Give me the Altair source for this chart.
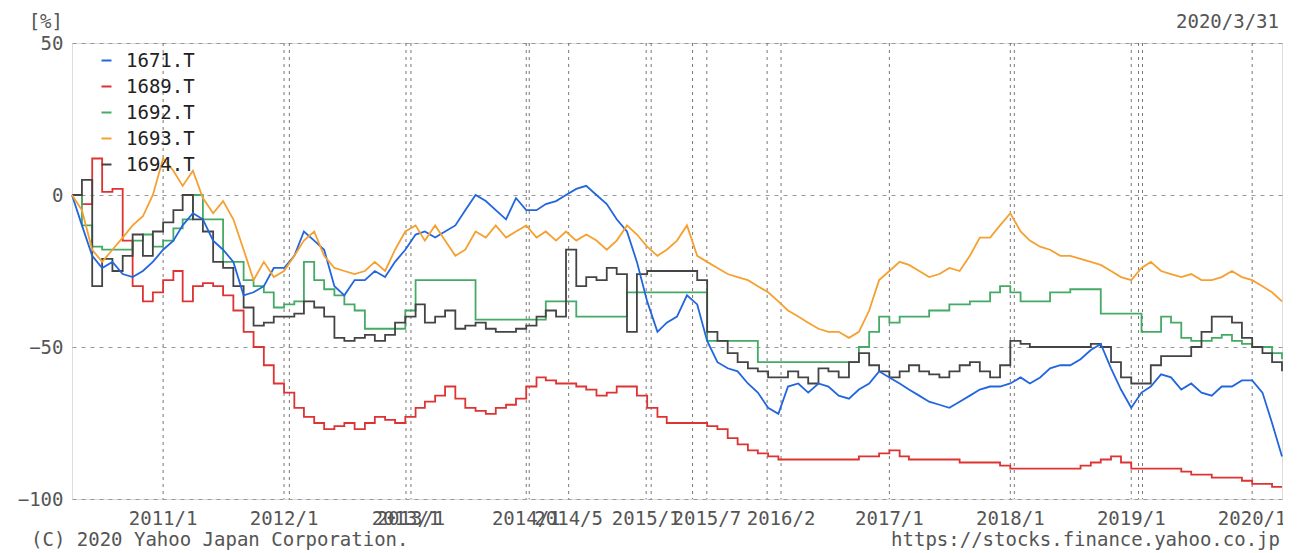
import altair as alt
import pandas as pd

# ---------------- data ----------------
dates = pd.date_range("2010-04-01", "2020-03-01", freq="MS").strftime("%Y-%m-%d").tolist() + ["2020-03-31"]

series_names = ["1671.T", "1689.T", "1692.T", "1693.T", "1694.T"]
series_colors = ["#2266DD", "#DD3333", "#44AA66", "#F5A030", "#444444"]

v1671 = [0, -10, -20, -24, -22, -26, -27, -25, -22, -18,
         -15, -10, -6, -8, -15, -18, -22, -33, -32, -30,
         -24, -24, -20, -12, -15, -18, -30, -33, -28, -28,
         -25, -27, -22, -18, -13, -12, -14, -12, -10, -5,
         0, -2, -5, -8, -1, -5, -5, -3, -2, 0,
         2, 3, 0, -3, -8, -12, -22, -35, -45, -42,
         -40, -33, -36, -48, -55, -57, -58, -62, -65, -70,
         -72, -63, -62, -65, -62, -63, -66, -67, -64, -62,
         -58, -60, -62, -64, -66, -68, -69, -70, -68, -66,
         -64, -63, -63, -62, -60, -62, -60, -57, -56, -56,
         -54, -51, -49, -57, -64, -70, -65, -63, -59, -60,
         -64, -62, -65, -66, -63, -63, -61, -61, -65, -75,
         -86]

v1689 = [0, -3, 12, 1, 2, -15, -30, -35, -32, -28,
         -25, -35, -30, -29, -30, -33, -38, -45, -50, -56,
         -62, -65, -70, -73, -75, -77, -76, -75, -77, -75,
         -73, -74, -75, -73, -70, -68, -66, -63, -67, -70,
         -71, -72, -70, -69, -67, -63, -60, -61, -62, -62,
         -63, -64, -66, -65, -63, -63, -66, -70, -73, -75,
         -75, -75, -75, -76, -77, -80, -82, -84, -85, -86,
         -87, -87, -87, -87, -87, -87, -87, -87, -86, -86,
         -85, -84, -86, -87, -87, -87, -87, -87, -88, -88,
         -88, -88, -89, -90, -90, -90, -90, -90, -90, -90,
         -89, -88, -87, -86, -88, -90, -90, -90, -90, -90,
         -91, -92, -92, -93, -93, -93, -94, -95, -95, -96,
         -96]

v1692 = [0, -10, -17, -18, -18, -18, -15, -13, -17, -15,
         -11, -8, 0, -8, -8, -22, -22, -28, -30, -32,
         -37, -36, -35, -22, -28, -31, -33, -36, -38, -44,
         -44, -44, -44, -38, -28, -28, -28, -28, -28, -28,
         -41, -41, -41, -41, -41, -41, -41, -35, -35, -35,
         -40, -40, -40, -40, -40, -32, -32, -32, -32, -32,
         -32, -32, -32, -48, -48, -48, -48, -48, -55, -55,
         -55, -55, -55, -55, -55, -55, -55, -55, -50, -45,
         -40, -42, -40, -40, -40, -38, -38, -36, -36, -35,
         -35, -32, -30, -32, -35, -35, -35, -32, -32, -31,
         -31, -31, -39, -39, -39, -39, -45, -45, -40, -42,
         -47, -48, -48, -47, -46, -48, -49, -50, -50, -52,
         -54]

v1693 = [0, -5, -18, -22, -18, -14, -10, -7, 0, 12,
         8, 3, 8, -1, -6, -2, -8, -18, -28, -22,
         -27, -25, -20, -15, -12, -20, -24, -25, -26, -25,
         -22, -25, -18, -12, -10, -15, -10, -15, -20, -18,
         -12, -14, -10, -14, -12, -10, -14, -12, -15, -12,
         -15, -13, -15, -18, -15, -10, -13, -17, -20, -18,
         -15, -10, -20, -22, -24, -26, -27, -28, -30, -32,
         -35, -38, -40, -42, -44, -45, -45, -47, -45, -38,
         -28, -25, -22, -23, -25, -27, -26, -24, -25, -20,
         -14, -14, -10, -6, -12, -15, -17, -18, -20, -20,
         -21, -22, -23, -25, -27, -28, -24, -22, -25, -26,
         -27, -26, -28, -28, -27, -25, -27, -28, -30, -32,
         -35]

v1694 = [0, 5, -30, -21, -25, -20, -13, -20, -12, -9,
         -5, 0, -8, -12, -22, -24, -30, -37, -43, -42,
         -40, -40, -39, -35, -37, -40, -47, -48, -47, -46,
         -48, -46, -42, -40, -36, -42, -40, -38, -44, -43,
         -42, -44, -45, -45, -44, -43, -40, -38, -40, -18,
         -30, -27, -28, -24, -26, -45, -26, -25, -25, -25,
         -25, -25, -28, -45, -48, -52, -55, -57, -58, -60,
         -60, -58, -60, -62, -57, -58, -60, -55, -52, -56,
         -58, -60, -58, -56, -58, -59, -60, -58, -56, -55,
         -58, -60, -56, -48, -49, -50, -50, -50, -50, -50,
         -50, -49, -50, -55, -60, -62, -62, -56, -53, -53,
         -53, -50, -45, -40, -40, -42, -47, -50, -52, -55,
         -58]

# vertical marker lines and the date labels under them
vline_dates = ["2011-01-01", "2012-01-01", "2012-01-17", "2013-01-03", "2013-01-18",
               "2014-01-01", "2014-01-10", "2014-05-09", "2014-12-29", "2015-01-13",
               "2015-05-18", "2015-06-30", "2015-12-29", "2016-02-09", "2017-01-01",
               "2018-01-01", "2018-01-13", "2019-01-01", "2019-01-23", "2019-02-04",
               "2020-01-01"]
label_dates = ["2011-01-01", "2012-01-01", "2013-01-03", "2013-01-18", "2014-01-01",
               "2014-05-09", "2014-12-29", "2015-06-30", "2016-02-09", "2017-01-01",
               "2018-01-01", "2019-01-01", "2020-01-01"]
label_texts = ["2011/1", "2012/1", "2013/1", "2013/1", "2014/1",
               "2014/5", "2015/1", "2015/7", "2016/2", "2017/1",
               "2018/1", "2019/1", "2020/1"]
y_ticks = [-100, -50, 0, 50]

unit_text = ["[%]"]
date_text = ["2020/3/31"]
copyright_text = ["(C) 2020 Yahoo Japan Corporation."]
url_text = ["https://stocks.finance.yahoo.co.jp"]

# ---------------- build ----------------
values = {"1671.T": v1671, "1689.T": v1689, "1692.T": v1692, "1693.T": v1693, "1694.T": v1694}
rows = []
for name in series_names:
    for d, v in zip(dates, values[name]):
        rows.append({"date": d, "value": v, "series": name})
df = pd.DataFrame(rows)

FONT = "DejaVu Sans Mono"
FS = 19
W, H = 1210, 456

xscale = alt.Scale(domain=[alt.DateTime(year=2010, month=4, date=1, utc=True),
                           alt.DateTime(year=2020, month=3, date=31, utc=True)])
yscale = alt.Scale(domain=[-100, 50], nice=False)
color = alt.Color("series:N",
                  scale=alt.Scale(domain=series_names, range=series_colors),
                  legend=alt.Legend(title=None, orient="none", legendX=25, legendY=8,
                                    symbolType="stroke", symbolSize=100, symbolStrokeWidth=2,
                                    labelFont=FONT, labelFontSize=FS, labelColor="#222",
                                    labelOffset=10, rowPadding=6, padding=0))

base = alt.Chart(df).encode(
    x=alt.X("date:T", scale=xscale, axis=None),
    y=alt.Y("value:Q", scale=yscale,
            axis=alt.Axis(values=y_ticks, title=None, grid=True, gridDash=[4, 5],
                          gridColor="#999", gridWidth=1, domain=False, ticks=False,
                          labelFont=FONT, labelFontSize=FS, labelColor="#555",
                          labelPadding=9)),
    color=color,
)

vlines = alt.Chart(pd.DataFrame({"d": vline_dates})).mark_rule(
    color="#777", strokeWidth=1, strokeDash=[3, 4]
).encode(x=alt.X("d:T", scale=xscale, axis=None))

step_lines = base.transform_filter(
    alt.FieldOneOfPredicate(field="series", oneOf=["1689.T", "1692.T", "1694.T"])
).mark_line(interpolate="step-after", strokeWidth=1.8)

smooth_lines = base.transform_filter(
    alt.FieldOneOfPredicate(field="series", oneOf=["1671.T", "1693.T"])
).mark_line(strokeWidth=1.8)

xlabels = alt.Chart(pd.DataFrame({"d": label_dates, "t": label_texts})).mark_text(
    font=FONT, fontSize=FS, color="#555", baseline="middle", align="center"
).encode(x=alt.X("d:T", scale=xscale, axis=None), y=alt.value(476), text="t:N")

def txt(lst, x, y, align):
    return alt.Chart(pd.DataFrame({"t": lst})).mark_text(
        font=FONT, fontSize=FS, color="#555", baseline="middle", align=align
    ).encode(x=alt.value(x), y=alt.value(y), text="t:N")

chart = alt.layer(
    vlines, step_lines, smooth_lines, xlabels,
    txt(unit_text, -9, -21, "right"),
    txt(date_text, 1207, -21, "right"),
    txt(copyright_text, -41, 497, "left"),
    txt(url_text, 1208, 497, "right"),
).properties(
    width=W, height=H,
    autosize=alt.AutoSizeParams(type="none"),
    padding={"left": 64, "top": 35, "right": 1, "bottom": 54},
).configure_view(
    stroke="#888", strokeWidth=2
).configure(background="white")

chart.save("out.html", embed_options={"renderer": "svg", "actions": False})
